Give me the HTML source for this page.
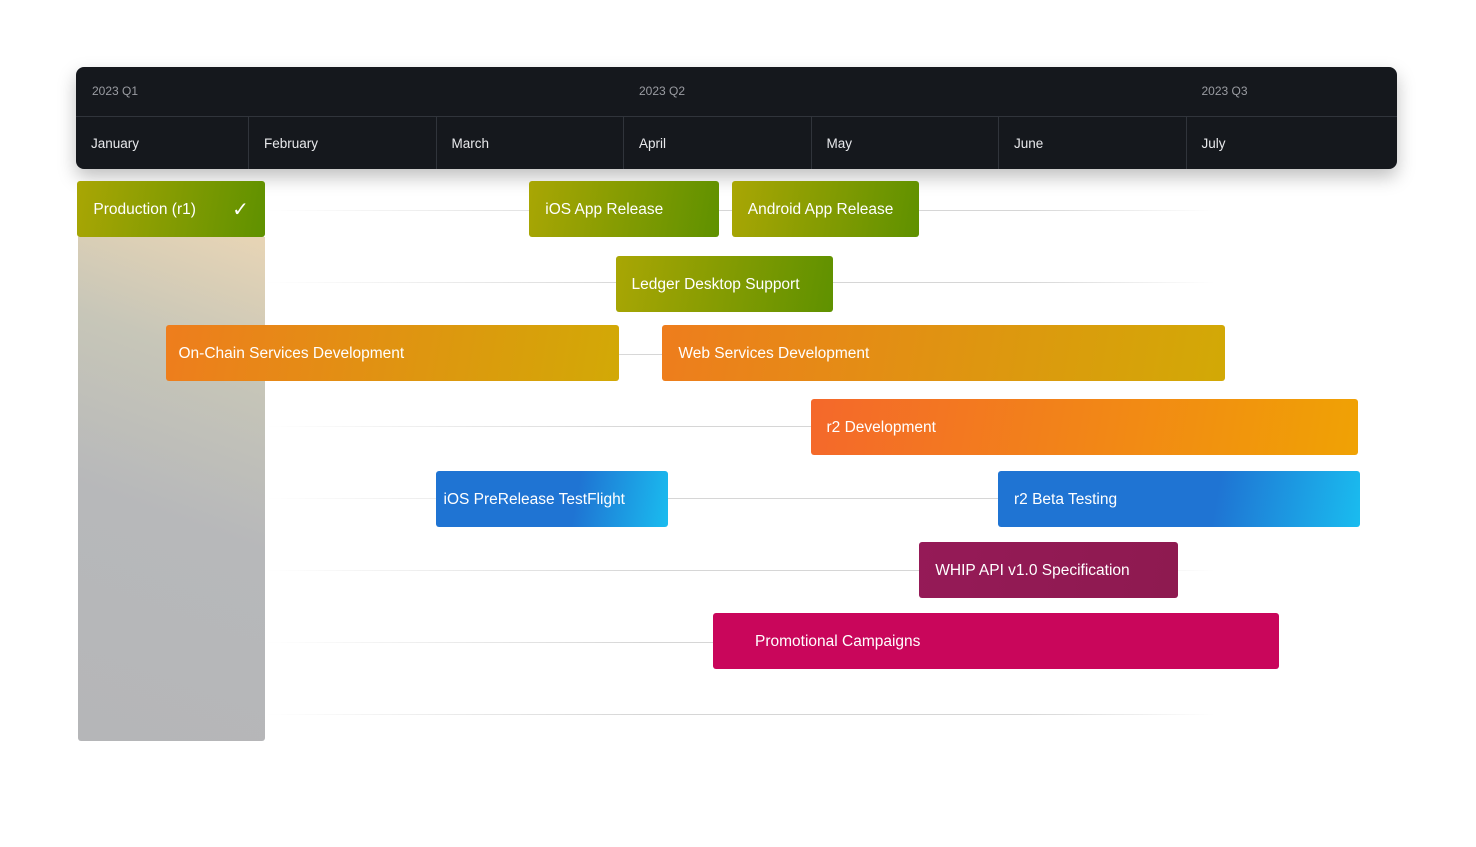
<!DOCTYPE html>
<html><head><meta charset="utf-8">
<style>
body{margin:0;width:1476px;height:847px;background:#fff;position:relative;overflow:hidden;font-family:"Liberation Sans",sans-serif}
#hdr{position:absolute;left:76px;top:67px;width:1321px;height:102px;background:#15181d;border-radius:8px;box-shadow:0 8px 18px rgba(0,0,0,0.25)}
.q{position:absolute;top:17px;font-size:12px;color:#9a9ca2}
.m{position:absolute;top:49px;height:53px;border-left:1px solid #30343b;font-size:13.5px;color:#e8e9ec;box-sizing:border-box;padding:20px 0 0 15px}
#div{position:absolute;left:0;right:0;top:49px;border-top:1px solid #30343b}
.grid{position:absolute;height:1px;background:linear-gradient(90deg,rgba(200,200,200,0),#d6d6d6 40%,#d6d6d6 80%,rgba(200,200,200,0))}
.bar{position:absolute;height:56px;border-radius:3px;color:#fff;font-size:15.5px;box-sizing:border-box;line-height:58px;white-space:nowrap}
#shade{position:absolute;left:78px;top:237px;width:187px;height:504px;border-radius:0 0 3px 3px;background:linear-gradient(200deg,#e8d5b5 0%,#c7c6b8 25%,#b7b8ba 55%,#b5b6b8 100%)}
</style></head><body>
<div id="hdr">
 <div id="div"></div>
</div>
<div id="shade"></div>
<div id="chart"></div>
<script>
const months=["January","February","March","April","May","June","July"];
const quarters=["2023 Q1","2023 Q2","2023 Q3"];
const quarterStart=[0,3,6];
const tasks=["Production (r1)","iOS App Release","Android App Release","Ledger Desktop Support","On-Chain Services Development","Web Services Development","r2 Development","iOS PreRelease TestFlight","r2 Beta Testing","WHIP API v1.0 Specification","Promotional Campaigns"];
const starts=[0.09,2.50,3.58,2.96,0.56,3.21,4.00,2.00,5.00,4.58,3.48];
const ends=[1.09,3.51,4.58,4.12,2.98,6.21,6.92,3.24,6.93,5.96,6.50];
const rows=[0,0,0,1,2,2,3,4,4,5,6];
const kinds=["green","green","green","green","orange","orange","orange2","blue","blue","whip","promo"];
const X=m=>60.5+m*187.5;
const rowTop=[181,256,325,399,471,542,613];
const rowY=r=>rowTop[r];
const fills={green:"linear-gradient(100deg,#a9a604,#5f9100)",orange:"linear-gradient(100deg,#ee7d1d,#d2a906)",orange2:"linear-gradient(100deg,#f4682b,#f0a204)",blue:"linear-gradient(100deg,#1f74d3 60%,#1abcef)",whip:"linear-gradient(100deg,#951a57,#8e1a50)",promo:"#c9065b"};
const hdr=document.getElementById('hdr');
months.forEach((t,i)=>{const d=document.createElement('div');d.className='m';


const l=i==0?0:X(i)-76;const r=i==months.length-1?1321:X(i+1)-76;
d.style.left=l+'px';d.style.width=(r-l)+'px';if(i==0)d.style.borderLeft='none';d.textContent=t;hdr.appendChild(d);});
quarters.forEach((t,i)=>{const d=document.createElement('div');d.className='q';


d.style.left=(quarterStart[i]==0?16:X(quarterStart[i])-76+16)+'px';d.textContent=t;hdr.appendChild(d);});
const ch=document.getElementById('chart');
for(let r=0;r<8;r++){const g=document.createElement('div');g.className='grid';


g.style.left='265px';g.style.width='950px';g.style.top=(210+r*72)+'px';ch.appendChild(g);}
tasks.forEach((t,i)=>{const b=document.createElement('div');b.className='bar';


const x0=X(starts[i]),x1=X(ends[i]);
b.style.left=x0+'px';b.style.width=(x1-x0)+'px';b.style.top=rowY(rows[i])+'px';
b.style.background=fills[kinds[i]];
b.style.paddingLeft=(t.startsWith('Promo')?42:t.startsWith('iOS Pre')?8:t.startsWith('On-Chain')?13:16)+'px';
b.textContent=t;
if(i==0){const c=document.createElement('span');c.textContent='✓';c.style.cssText='position:absolute;right:16px;font-size:20px';b.appendChild(c);}
ch.appendChild(b);});
</script>
</body></html>
